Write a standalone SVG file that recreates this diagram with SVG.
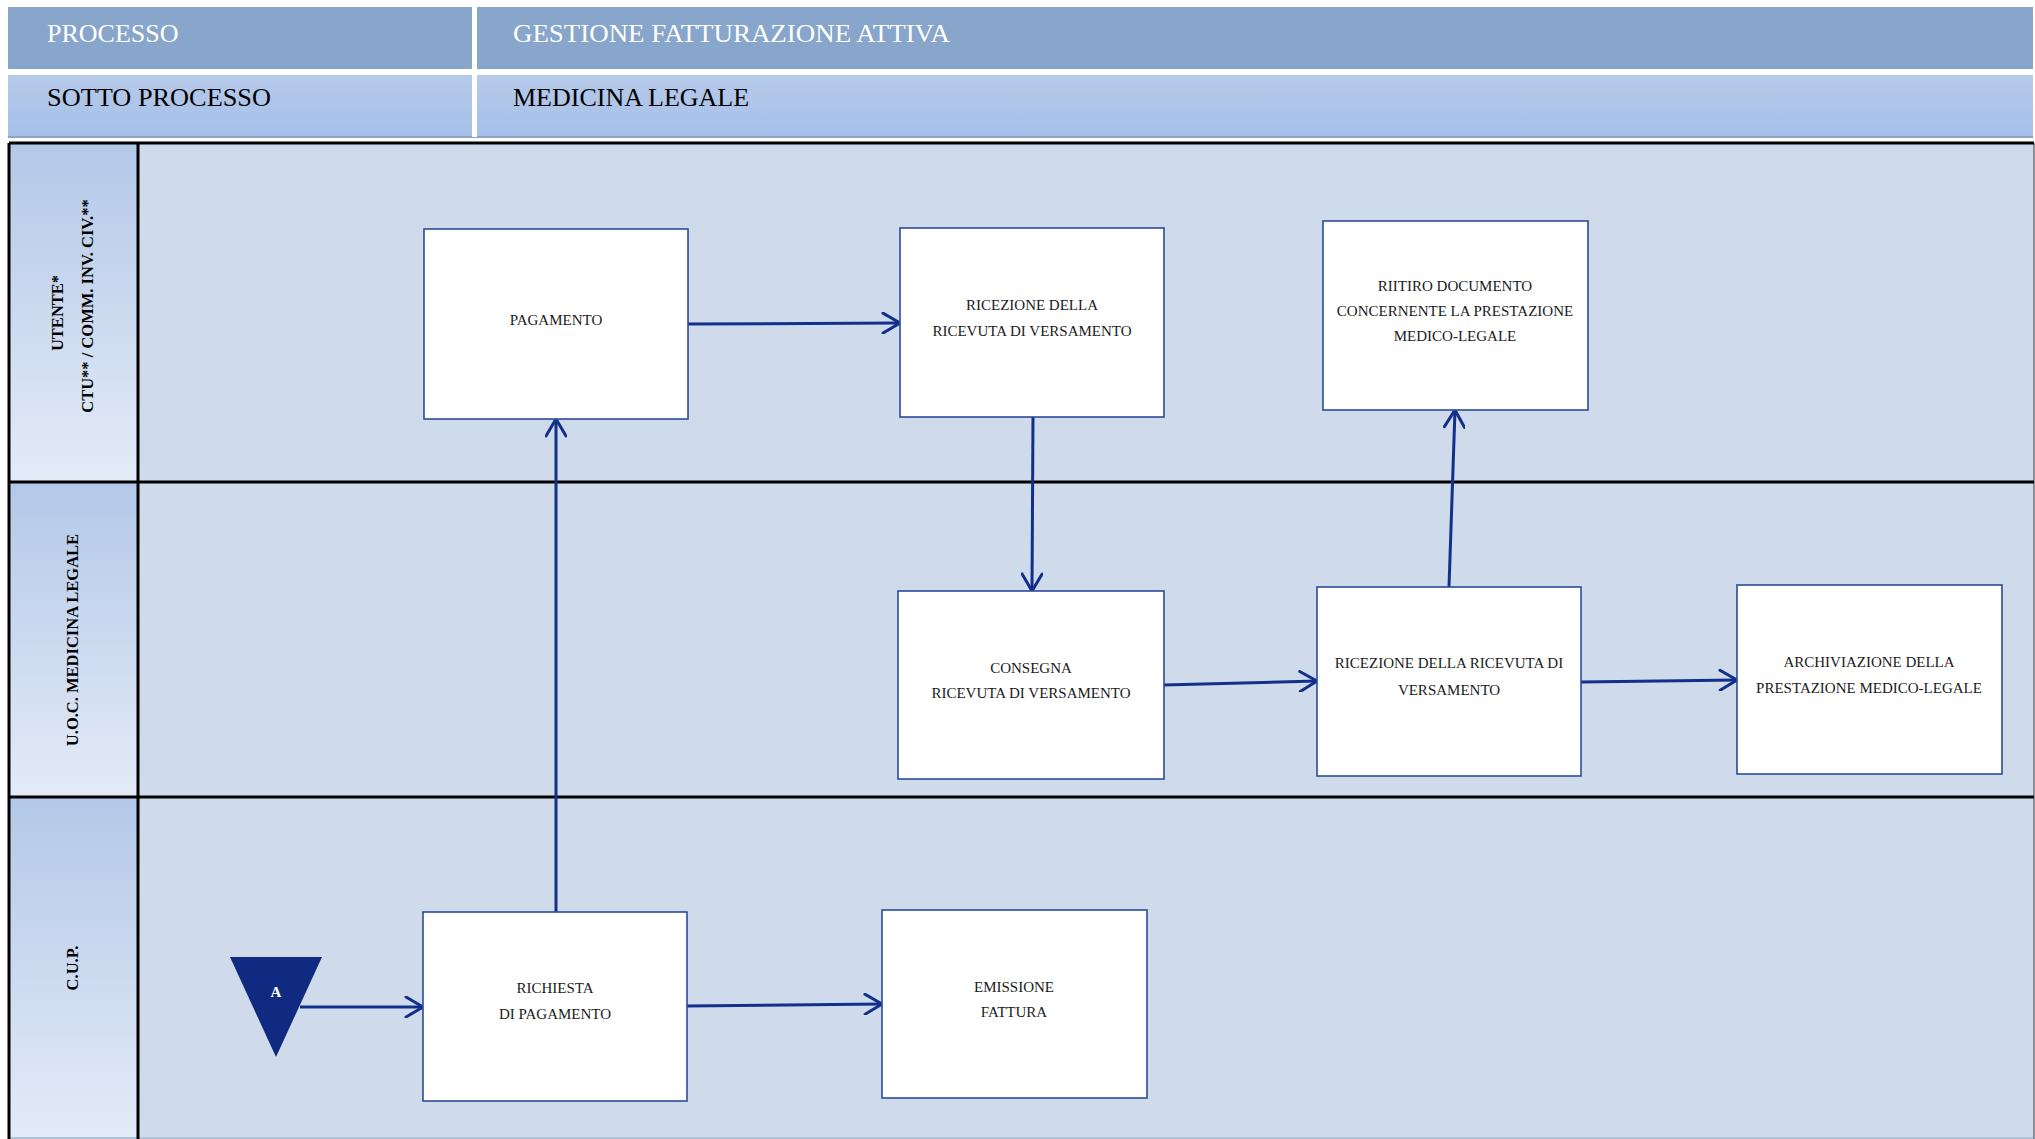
<svg xmlns="http://www.w3.org/2000/svg" width="2035" height="1139" viewBox="0 0 2035 1139">
<defs>
<linearGradient id="hdr2" x1="0" y1="0" x2="0" y2="1">
<stop offset="0" stop-color="#B6CAE9"/><stop offset="1" stop-color="#A6C0EA"/>
</linearGradient>
<linearGradient id="laneHdr" x1="0" y1="0" x2="0" y2="1">
<stop offset="0" stop-color="#B3C8E8"/><stop offset="1" stop-color="#E4EBF7"/>
</linearGradient>
<marker id="arr" viewBox="0 0 22 22" refX="19" refY="11" markerWidth="22" markerHeight="22" orient="auto" markerUnits="userSpaceOnUse">
<path d="M2,1 L19,11 L2,21" fill="none" stroke="#12308A" stroke-width="3" stroke-linecap="round" stroke-linejoin="miter"/>
</marker>
</defs>
<style>
.htxt{font-family:"Liberation Serif","Times New Roman",serif;font-size:26px}
.lane{fill:#CFDBEA}
.lhdr{fill:url(#laneHdr)}
.sep{stroke:#000;stroke-width:3;fill:none}
.ltxt{font-family:"Liberation Serif","Times New Roman",serif;font-size:16.5px;font-weight:bold;fill:#000;text-anchor:middle}
.box{fill:#fff;stroke:#2B4A9A;stroke-width:1.6}
.ntxt{font-family:"Liberation Serif","Times New Roman",serif;font-size:15px;fill:#1a1a1a;text-anchor:middle}
.con{stroke:#12308A;stroke-width:3;fill:none;marker-end:url(#arr)}
</style>
<rect width="2035" height="1139" fill="#fff"/>
<g id="header">
<rect x="8" y="7" width="2025" height="62" fill="#88A5CB"/>
<rect x="8" y="75" width="2025" height="62" fill="url(#hdr2)"/>
<rect x="8" y="136" width="2025" height="2" fill="#8FA3C0"/>
<rect x="472" y="7" width="5" height="130" fill="#fff"/>
<text class="htxt" x="47" y="42" fill="#fff">PROCESSO</text>
<text class="htxt" x="513" y="42" fill="#fff" textLength="437" lengthAdjust="spacingAndGlyphs">GESTIONE FATTURAZIONE ATTIVA</text>
<text class="htxt" x="47" y="106" fill="#000" textLength="224" lengthAdjust="spacingAndGlyphs">SOTTO PROCESSO</text>
<text class="htxt" x="513" y="106" fill="#000">MEDICINA LEGALE</text>
</g>
<g id="lanes">
<rect class="lane" x="138" y="143" width="1896" height="996"/>
<rect class="lhdr" x="9" y="143" width="129" height="339"/>
<rect class="lhdr" x="9" y="482" width="129" height="315"/>
<rect class="lhdr" x="9" y="797" width="129" height="342"/>
<line x1="9" y1="1138" x2="2034" y2="1138" stroke="#B4C2D6" stroke-width="2"/>
<line x1="2034" y1="143" x2="2034" y2="1139" stroke="#6B7280" stroke-width="1.5"/>
<path class="sep" d="M9,143 H2034 M9,482 H2034 M9,797 H2034 M9,143 V1139 M138,143 V1139"/>
<text class="ltxt" transform="translate(63,313) rotate(-90)">UTENTE*</text>
<text class="ltxt" transform="translate(93,306) rotate(-90)">CTU** / COMM. INV. CIV.**</text>
<text class="ltxt" transform="translate(78,640) rotate(-90)">U.O.C. MEDICINA LEGALE</text>
<text class="ltxt" transform="translate(78,968) rotate(-90)">C.U.P.</text>
</g>
<g id="connectors">
<line class="con" x1="300" y1="1007" x2="423" y2="1007"/>
<line class="con" x1="687" y1="1006" x2="882" y2="1004"/>
<line class="con" x1="556" y1="912" x2="556" y2="419"/>
<line class="con" x1="688" y1="324" x2="900" y2="323"/>
<line class="con" x1="1033" y1="417" x2="1032" y2="591"/>
<line class="con" x1="1164" y1="685" x2="1317" y2="681"/>
<line class="con" x1="1581" y1="682" x2="1737" y2="680"/>
<line class="con" x1="1449" y1="587" x2="1455" y2="410"/>
</g>
<g id="n_pagamento">
<rect class="box" x="424" y="229" width="264" height="190"/>
<text class="ntxt" x="556" y="325">PAGAMENTO</text>
</g>
<g id="n_ricezione1">
<rect class="box" x="900" y="228" width="264" height="189"/>
<text class="ntxt" x="1032" y="310">RICEZIONE DELLA</text>
<text class="ntxt" x="1032" y="336">RICEVUTA DI VERSAMENTO</text>
</g>
<g id="n_ritiro">
<rect class="box" x="1323" y="221" width="265" height="189"/>
<text class="ntxt" x="1455" y="291">RIITIRO DOCUMENTO</text>
<text class="ntxt" x="1455" y="316">CONCERNENTE LA PRESTAZIONE</text>
<text class="ntxt" x="1455" y="341">MEDICO-LEGALE</text>
</g>
<g id="n_consegna">
<rect class="box" x="898" y="591" width="266" height="188"/>
<text class="ntxt" x="1031" y="673">CONSEGNA</text>
<text class="ntxt" x="1031" y="698">RICEVUTA DI VERSAMENTO</text>
</g>
<g id="n_ricezione2">
<rect class="box" x="1317" y="587" width="264" height="189"/>
<text class="ntxt" x="1449" y="668">RICEZIONE DELLA RICEVUTA DI</text>
<text class="ntxt" x="1449" y="695">VERSAMENTO</text>
</g>
<g id="n_archiviazione">
<rect class="box" x="1737" y="585" width="265" height="189"/>
<text class="ntxt" x="1869" y="667">ARCHIVIAZIONE DELLA</text>
<text class="ntxt" x="1869" y="693">PRESTAZIONE MEDICO-LEGALE</text>
</g>
<g id="n_richiesta">
<rect class="box" x="423" y="912" width="264" height="189"/>
<text class="ntxt" x="555" y="993">RICHIESTA</text>
<text class="ntxt" x="555" y="1019">DI PAGAMENTO</text>
</g>
<g id="n_emissione">
<rect class="box" x="882" y="910" width="265" height="188"/>
<text class="ntxt" x="1014" y="992">EMISSIONE</text>
<text class="ntxt" x="1014" y="1017">FATTURA</text>
</g>
<g id="n_a">
<polygon points="230,957 322,957 276,1057" fill="#0F2A80"/>
<text x="276" y="997" font-family="Liberation Serif, serif" font-size="15" font-weight="bold" fill="#fff" text-anchor="middle">A</text>
</g>
</svg>
